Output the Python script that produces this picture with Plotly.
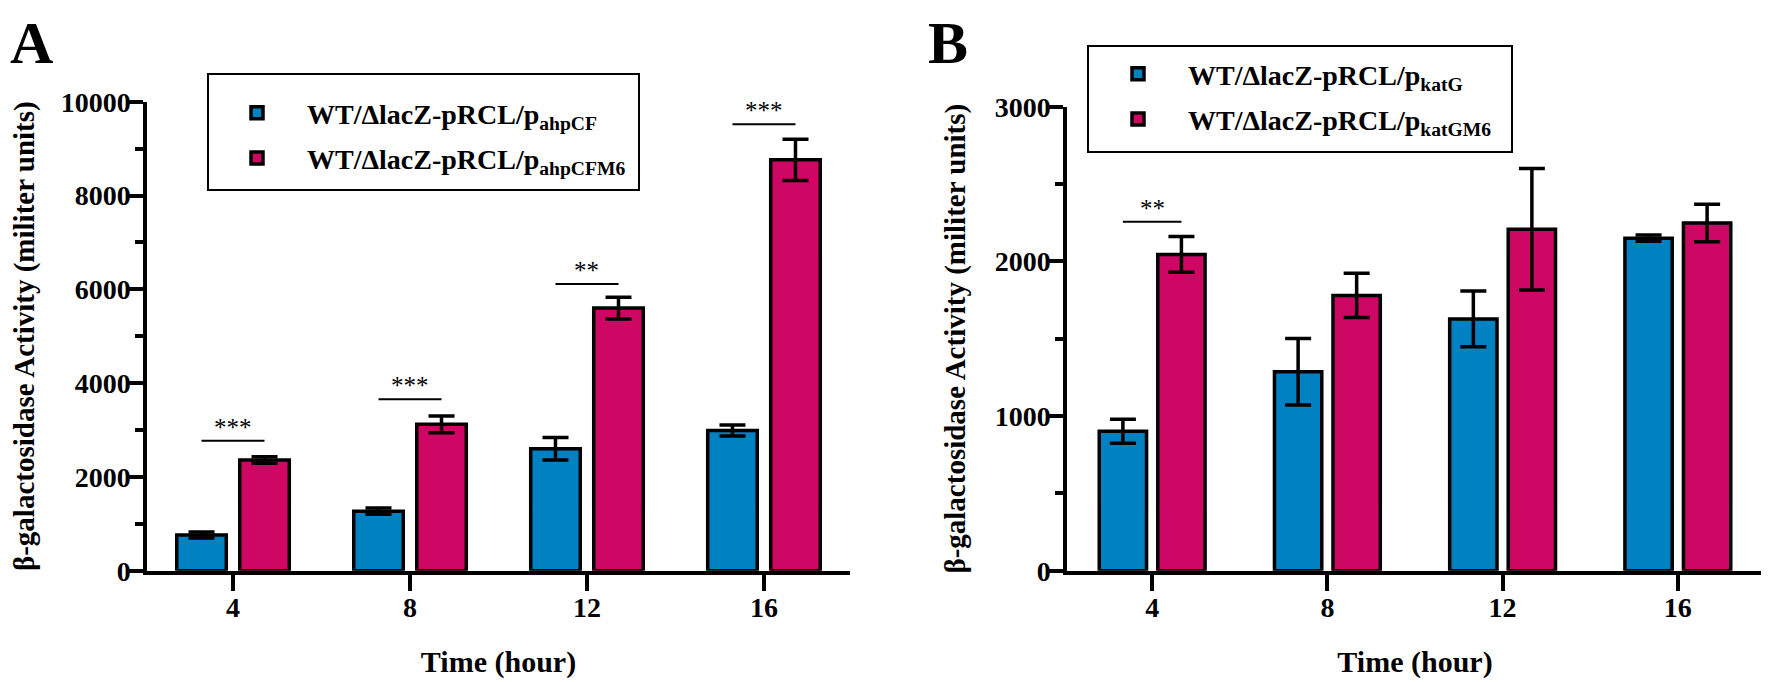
import plotly.graph_objects as go

# ---------------- data ----------------
hours = ["4", "8", "12", "16"]

a_ctrl = [760, 1270, 2600, 2990]
a_ctrl_err = [65, 65, 238, 118]
a_mut = [2360, 3120, 5600, 8760]
a_mut_err = [70, 177, 231, 441]

b_ctrl = [902, 1287, 1628, 2150]
b_ctrl_err = [78, 215, 180, 20]
b_mut = [2045, 1780, 2208, 2248]
b_mut_err = [115, 143, 393, 121]

a_sig_hours = ["4", "8", "12", "16"]
a_sig_y = [2772, 3655, 6113, 9518]
a_sig_text = ["***", "***", "**", "***"]

b_sig_hours = ["4"]
b_sig_y = [2256]
b_sig_text = ["**"]

names_a = ["WT/ΔlacZ-pRCL/p<sub>ahpCF</sub>", "WT/ΔlacZ-pRCL/p<sub>ahpCFM6</sub>"]
names_b = ["WT/ΔlacZ-pRCL/p<sub>katG</sub>", "WT/ΔlacZ-pRCL/p<sub>katGM6</sub>"]

# ---------------- style ----------------
BLUE = "#0081c2"
PINK = "#cd0763"
FONT = "Liberation Serif"
W, H = 1769, 682
OFF = 8  # page body margin offset
LW = 3.5


def px(v):
    return (v - OFF) / W


def py(v):
    return 1 - (v - OFF) / H


fig = go.Figure()


def add_bars(xa, ya, vals, errs, name, color, off, width, legend):
    fig.add_trace(go.Bar(
        x=hours, y=vals, name=name, xaxis=xa, yaxis=ya,
        offset=off, width=width,
        marker=dict(color=color, line=dict(color="black", width=LW)),
        error_y=dict(type="data", array=errs, visible=True, color="black",
                     thickness=LW, width=13),
        legend=legend, legendgroup=name,
    ))


wa = 0.28
ca = 0.178
add_bars("x", "y", a_ctrl, a_ctrl_err, names_a[0], BLUE, -ca - wa / 2, wa, "legend")
add_bars("x", "y", a_mut, a_mut_err, names_a[1], PINK, ca - wa / 2, wa, "legend")
wb = 0.27
cb = 0.167
add_bars("x2", "y2", b_ctrl, b_ctrl_err, names_b[0], BLUE, -cb - wb / 2, wb, "legend2")
add_bars("x2", "y2", b_mut, b_mut_err, names_b[1], PINK, cb - wb / 2, wb, "legend2")

shapes = []
annotations = []


def add_sig(xref, yref, hrs, ys, texts, c):
    for h, yv, t in zip(hrs, ys, texts):
        i = hours.index(h)
        shapes.append(dict(type="line", xref=xref, yref=yref,
                           x0=i - c, x1=i + c, y0=yv, y1=yv,
                           line=dict(color="black", width=2)))
        annotations.append(dict(xref=xref, yref=yref, x=i, y=yv, text=t,
                                showarrow=False, yanchor="bottom", yshift=-2,
                                font=dict(family=FONT, size=25, color="black")))


add_sig("x", "y", a_sig_hours, a_sig_y, a_sig_text, ca)
add_sig("x2", "y2", b_sig_hours, b_sig_y, b_sig_text, cb)

# legend frames
for (x0, x1, y0, y1) in [(208, 639, 74, 190), (1088, 1512, 46, 152)]:
    shapes.append(dict(type="rect", xref="paper", yref="paper",
                       x0=px(x0), x1=px(x1), y0=py(y1), y1=py(y0),
                       line=dict(color="black", width=2), fillcolor="white",
                       layer="above"))

# panel letters
annotations.append(dict(xref="paper", yref="paper", x=0, y=1,
                        xanchor="left", yanchor="top",
                        text="A", showarrow=False,
                        font=dict(family=FONT, size=60, color="black", weight="bold")))
annotations.append(dict(xref="paper", yref="paper", x=px(926), y=1,
                        xanchor="left", yanchor="top",
                        text="B", showarrow=False,
                        font=dict(family=FONT, size=60, color="black", weight="bold")))

tickfont = dict(family=FONT, size=28, color="black", weight="bold")
titlefont = dict(family=FONT, size=30, color="black", weight="bold")
ytitlefont = dict(family=FONT, size=29, color="black", weight="bold")


def xaxis_cfg(domain, anchor):
    return dict(domain=domain, anchor=anchor, type="category",
                range=[-0.486, 3.486], showline=True, linecolor="black",
                linewidth=LW, ticks="outside", ticklen=17, tickwidth=LW,
                tickcolor="black", tickfont=tickfont, showgrid=False,
                zeroline=False, automargin=False, ticklabelstandoff=-8,
                title=dict(text="Time (hour)", font=titlefont, standoff=30))


def yaxis_cfg(domain, anchor, rng, dtick, minor):
    return dict(domain=domain, anchor=anchor, range=rng, dtick=dtick,
                tickformat="d",
                showline=True, linecolor="black", linewidth=LW,
                ticks="outside", ticklen=15, tickwidth=LW, tickcolor="black",
                minor=dict(dtick=minor, ticks="outside", ticklen=8,
                           tickwidth=LW, tickcolor="black"),
                tickfont=tickfont, showgrid=False, zeroline=False,
                automargin=False, ticklabelstandoff=-8,
                title=dict(text="β-galactosidase Activity (militer units)",
                           font=ytitlefont, standoff=21))


legend_font = dict(family=FONT, size=28, color="black", weight="bold")
fig.update_layout(
    width=W, height=H,
    margin=dict(l=0, r=0, t=0, b=0),
    paper_bgcolor="white", plot_bgcolor="white",
    barmode="overlay",
    xaxis=xaxis_cfg([px(147), px(850)], "y"),
    yaxis=yaxis_cfg([py(570.7), py(101.7)], "x", [0, 10000], 2000, 1000),
    xaxis2=xaxis_cfg([px(1067), px(1763)], "y2"),
    yaxis2=yaxis_cfg([py(570.7), py(106.7)], "x2", [0, 3000], 1000, 500),
    legend=dict(x=px(207), y=py(88), xanchor="left", yanchor="top",
                borderwidth=0, bgcolor="rgba(0,0,0,0)",
                font=legend_font, tracegroupgap=6, itemwidth=90),
    legend2=dict(x=px(1088), y=py(49), xanchor="left", yanchor="top",
                 borderwidth=0, bgcolor="rgba(0,0,0,0)",
                 font=legend_font, tracegroupgap=6, itemwidth=90),
    shapes=shapes, annotations=annotations,
    showlegend=True,
)

fig.write_html("out.html")
